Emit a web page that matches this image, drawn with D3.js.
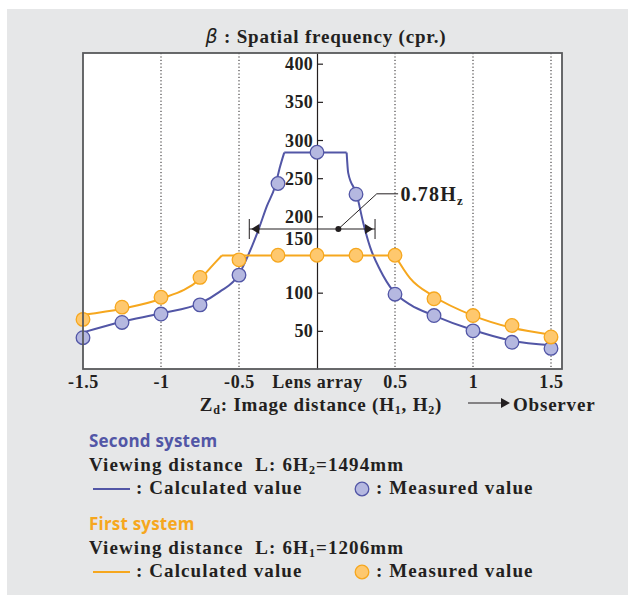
<!DOCTYPE html>
<html>
<head>
<meta charset="utf-8">
<script src="https://cdn.jsdelivr.net/npm/d3@7"></script>
<style>
body { margin:0; background:#fff; }
svg text { font-family:"Liberation Serif", serif; font-weight:bold; fill:#231f20; letter-spacing:0.8px; }
svg text.sans { font-family:"Open Sans", sans-serif; letter-spacing:0.2px; }
svg text.leg { letter-spacing:1.1px; }
</style>
</head>
<body>
<div id="chart"></div>
<script>
// measured points (both systems share the same Zd positions)
const zdMeasured = [-1.5, -1.25, -1, -0.75, -0.5, -0.25, 0, 0.25, 0.5, 0.75, 1, 1.25, 1.5];
const secondMeasured = [41, 61, 72, 84, 123, 243, 284, 229, 98, 70, 50, 35, 27];
const firstMeasured  = [65, 81, 94, 120, 143, 149, 149, 149, 149, 92, 70, 57, 42];

// calculated curves (left branch, plateau, right branch)
const secondCalcLeftX  = [-1.5, -1.25, -1, -0.75, -0.625, -0.5, -0.45, -0.376, -0.322, -0.269, -0.237, -0.21];
const secondCalcLeftY  = [48, 62, 73, 86, 101, 124, 145, 182, 213, 239, 265, 283.5];
const secondCalcRightX = [0.19, 0.2, 0.254, 0.297, 0.34, 0.404, 0.489, 0.6, 0.75, 1, 1.25, 1.5];
const secondCalcRightY = [283.5, 257, 229, 191, 160, 130, 102, 84, 70, 51, 37, 31];

const firstCalcLeftX  = [-1.5, -1.25, -1, -0.75, -0.65, -0.61];
const firstCalcLeftY  = [71, 79, 92, 118, 140, 148.7];
const firstCalcRightX = [0.5, 0.596, 0.75, 1, 1.25, 1.5];
const firstCalcRightY = [148.7, 119, 95, 70, 54, 45];

const yTicks = [50, 100, 150, 200, 250, 300, 350, 400];
const xTicks = [-1.5, -1, -0.5, 0, 0.5, 1, 1.5];
const xTickLabels = ["-1.5", "-1", "-0.5", "Lens array", "0.5", "1", "1.5"];
const gridX = [-1, -0.5, 0.5, 1, 1.5];

// 0.78Hz annotation (data units)
const spanX = [-0.434, 0.372], spanY = 183.4, spanDot = 0.137;

const blue = "#5256a6", blueFill = "#b5b8e0";
const orange = "#f6a71e", orangeFill = "#fec86e";

const svg = d3.select("#chart").append("svg").attr("width", 628).attr("height", 595);
svg.append("rect").attr("x", 7).attr("y", 9).attr("width", 621).attr("height", 586).attr("fill", "#e6e7e8");

const x = d3.scaleLinear().domain([-1.5, 1.5]).range([83, 551]);
const y = d3.scaleLinear().domain([0, 414]).range([369, 53]);
const pL = 83, pR = 562, pT = y(414), pB = y(0);

svg.append("rect").attr("x", pL).attr("y", pT).attr("width", pR - pL).attr("height", pB - pT)
    .attr("fill", "#fff");

svg.selectAll(".grid").data(gridX).enter().append("line")
    .attr("x1", d => x(d)).attr("x2", d => x(d)).attr("y1", pT).attr("y2", pB)
    .attr("stroke", "#231f20").attr("stroke-width", 1).attr("stroke-dasharray", "1.2,2.2");

// y axis sits at Zd = 0, ticks point right, labels on the left
const yAxis = svg.append("g").attr("transform", `translate(${x(0)},0)`)
    .call(d3.axisRight(y).tickValues(yTicks).tickSize(6).tickSizeOuter(0).tickFormat(d3.format("d")));
yAxis.select(".domain").attr("stroke", "#231f20").attr("stroke-width", 1.2);
yAxis.selectAll(".tick line").attr("stroke", "#231f20").attr("stroke-width", 1.2);
yAxis.selectAll("text").attr("x", -4).attr("text-anchor", "end").attr("fill", "#231f20")
    .style("font-size", "18px").style("font-family", "Liberation Serif, serif").style("font-weight", "bold")
    .style("letter-spacing", "0.3px")
    .attr("dy", d => d === 150 ? "-0.55em" : "0.34em");

const curve = d3.line().x(d => x(d[0])).y(d => y(d[1])).curve(d3.curveMonotoneX);
const flat = d3.line().x(d => x(d[0])).y(d => y(d[1]));
function drawCalc(lx, ly, rx, ry, color) {
    const l = lx.map((v, i) => [v, ly[i]]), r = rx.map((v, i) => [v, ry[i]]);
    const g = svg.append("g").attr("fill", "none").attr("stroke", color).attr("stroke-width", 2);
    g.append("path").attr("d", curve(l));
    g.append("path").attr("d", flat([l[l.length - 1], r[0]]));
    g.append("path").attr("d", curve(r));
}
drawCalc(secondCalcLeftX, secondCalcLeftY, secondCalcRightX, secondCalcRightY, blue);
drawCalc(firstCalcLeftX, firstCalcLeftY, firstCalcRightX, firstCalcRightY, orange);

function drawDots(vals, fill, stroke) {
    svg.append("g").selectAll("circle").data(vals).enter().append("circle")
        .attr("cx", (d, i) => x(zdMeasured[i])).attr("cy", d => y(d)).attr("r", 6.8)
        .attr("fill", fill).attr("stroke", stroke).attr("stroke-width", 1.3);
}
drawDots(secondMeasured, blueFill, blue);
drawDots(firstMeasured, orangeFill, orange);

// plot frame on top
svg.append("rect").attr("x", pL).attr("y", pT).attr("width", pR - pL).attr("height", pB - pT)
    .attr("fill", "none").attr("stroke", "#58595b").attr("stroke-width", 1.8);

// 0.78Hz span annotation
const sy = y(spanY), ax0 = x(spanX[0]), ax1 = x(spanX[1]);
const ann = svg.append("g").attr("stroke", "#231f20");
ann.append("line").attr("x1", ax0).attr("x2", ax1).attr("y1", sy).attr("y2", sy).attr("stroke-width", 1.2);
[ax0, ax1].forEach(v => ann.append("line").attr("x1", v).attr("x2", v).attr("y1", sy - 10).attr("y2", sy + 10).attr("stroke-width", 1));
ann.append("path").attr("stroke", "none").attr("fill", "#231f20")
    .attr("d", `M${ax0 + 2},${sy}l8,-5v10z M${ax1 - 2},${sy}l-8,-5v10z`);
ann.append("circle").attr("cx", x(spanDot)).attr("cy", sy).attr("r", 3).attr("fill", "#231f20").attr("stroke", "none");
ann.append("polyline").attr("fill", "none").attr("stroke-width", 1)
    .attr("points", `${x(spanDot)},${sy} ${x(0.383)},${y(229.5)} ${x(0.52)},${y(229.5)}`);
const hz = svg.append("text").attr("x", x(0.535)).attr("y", y(220)).style("font-size", "20px")
    .style("letter-spacing", "1.2px").text("0.78H");
hz.append("tspan").attr("dy", 4).style("font-size", "13px").text("z");

// x axis labels
const xAxis = svg.append("g").attr("transform", `translate(0,${pB})`)
    .call(d3.axisBottom(x).tickValues(xTicks).tickSize(0).tickPadding(6).tickFormat((d, i) => xTickLabels[i]));
xAxis.select(".domain").remove();
xAxis.selectAll("text").attr("fill", "#231f20").style("font-size", "18px")
    .style("font-family", "Liberation Serif, serif").style("font-weight", "bold").style("letter-spacing", "0.6px");

const xt = svg.append("text").attr("x", 321).attr("y", 411).attr("text-anchor", "middle").style("font-size", "19px");
xt.append("tspan").text("Z");
xt.append("tspan").attr("dy", 3).style("font-size", "12px").text("d");
xt.append("tspan").attr("dy", -3).text(": Image distance (H");
xt.append("tspan").attr("dy", 3).style("font-size", "12px").text("1");
xt.append("tspan").attr("dy", -3).text(", H");
xt.append("tspan").attr("dy", 3).style("font-size", "12px").text("2");
xt.append("tspan").attr("dy", -3).text(")");

svg.append("line").attr("x1", 468).attr("x2", 503).attr("y1", 403).attr("y2", 403).attr("stroke", "#231f20").attr("stroke-width", 1.2);
svg.append("path").attr("d", "M510,403l-9,-5v10z").attr("fill", "#231f20");
svg.append("text").attr("x", 513).attr("y", 411).style("font-size", "19px").text("Observer");

// title
const tt = svg.append("text").attr("x", 326).attr("y", 43).attr("text-anchor", "middle").style("font-size", "19px");
tt.append("tspan").style("font-style", "italic").style("font-weight", "normal").style("font-family", "DejaVu Sans, sans-serif").text("β");
tt.append("tspan").text(" : Spatial frequency (cpr.)");

// legends
function legend(y0, name, color, h, dist) {
    svg.append("text").attr("class", "sans").attr("x", 89).attr("y", y0)
        .style("fill", color).style("font-size", "17px").text(name);
    const t = svg.append("text").attr("class", "leg").attr("x", 89).attr("y", y0 + 24).style("font-size", "19px");
    t.append("tspan").text("Viewing distance\u00a0\u00a0L: 6H");
    t.append("tspan").attr("dy", 3).style("font-size", "12px").text(h);
    t.append("tspan").attr("dy", -3).text("=" + dist + "mm");
    svg.append("line").attr("x1", 93).attr("x2", 130).attr("y1", y0 + 42.5).attr("y2", y0 + 42.5)
        .attr("stroke", color).attr("stroke-width", 2);
    svg.append("text").attr("class", "leg").attr("x", 136).attr("y", y0 + 47.5).style("font-size", "19px").text(": Calculated value");
    svg.append("circle").attr("cx", 362).attr("cy", y0 + 42.5).attr("r", 6.8)
        .attr("fill", color === blue ? blueFill : orangeFill).attr("stroke", color).attr("stroke-width", 1.3);
    svg.append("text").attr("class", "leg").attr("x", 376).attr("y", y0 + 47.5).style("font-size", "19px").text(": Measured value");
}
legend(446.5, "Second system", blue, "2", 1494);
legend(529.5, "First system", orange, "1", 1206);
</script>
</body>
</html>
